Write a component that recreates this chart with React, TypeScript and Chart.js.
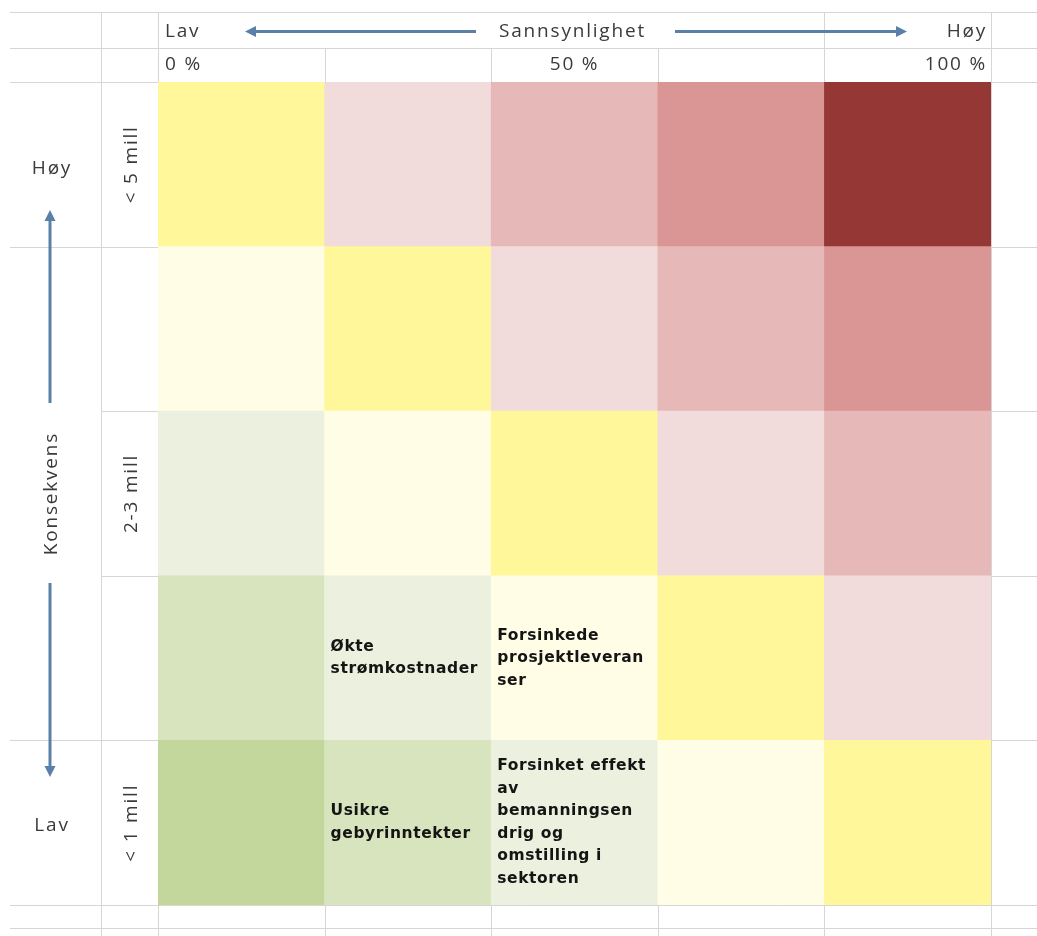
import React, { useEffect, useRef } from "react";
import { Chart, registerables } from "chart.js";

Chart.register(...registerables);

// ---- Data ----
// Probability columns (left → right) and consequence rows (bottom → top)
const probabilityLabels = ["0 %", "", "50 %", "", "100 %"];
const consequenceLabels = ["< 1 mill", "", "2-3 mill", "", "< 5 mill"];

// Risk level of each cell (0 = lowest/green ... 8 = highest/dark red), per consequence row
const riskRow1 = [0, 1, 2, 3, 4]; // < 1 mill
const riskRow2 = [1, 2, 3, 4, 5];
const riskRow3 = [2, 3, 4, 5, 6]; // 2-3 mill
const riskRow4 = [3, 4, 5, 6, 7];
const riskRow5 = [4, 5, 6, 7, 8]; // < 5 mill
const riskRows = [riskRow1, riskRow2, riskRow3, riskRow4, riskRow5];

// Each cell is one unit high in the stacked matrix
const cellUnits = [1, 1, 1, 1, 1];

const levelColors = [
  "#c3d69b",
  "#d7e4bd",
  "#ebf1de",
  "#fffde6",
  "#fff799",
  "#f2dcdb",
  "#e6b9b8",
  "#d99694",
  "#953735",
];

// Risks placed in the matrix: probability column index, consequence row index
const riskProb = [1, 2, 1, 2];
const riskCons = [1, 1, 0, 0];
const riskText = [
  ["Økte", "strømkostnader"],
  ["Forsinkede", "prosjektleveran", "ser"],
  ["Usikre", "gebyrinntekter"],
  ["Forsinket effekt", "av", "bemanningsen", "drig og", "omstilling i", "sektoren"],
];

const xTitle = "Sannsynlighet";
const yTitle = "Konsekvens";
const lowText = "Lav";
const highText = "Høy";

// ---- Drawing helpers ----
const GRID = "#d6d6d6";
const TEXT = "#3a3a3a";
const ARROW = "#5b80a8";
const HEAD_FONT = '19px "Open Sans"';
const CELL_FONT = 'bold 15.5px "DejaVu Sans"';

function drawArrow(ctx: CanvasRenderingContext2D, x1: number, y1: number, x2: number, y2: number) {
  const ang = Math.atan2(y2 - y1, x2 - x1);
  const head = 11;
  const half = 5.5;
  ctx.save();
  ctx.strokeStyle = ARROW;
  ctx.fillStyle = ARROW;
  ctx.lineWidth = 3;
  ctx.beginPath();
  ctx.moveTo(x1, y1);
  ctx.lineTo(x2 - Math.cos(ang) * head * 0.8, y2 - Math.sin(ang) * head * 0.8);
  ctx.stroke();
  ctx.beginPath();
  ctx.moveTo(x2, y2);
  ctx.lineTo(
    x2 - Math.cos(ang) * head - Math.sin(ang) * half,
    y2 - Math.sin(ang) * head + Math.cos(ang) * half
  );
  ctx.lineTo(
    x2 - Math.cos(ang) * head + Math.sin(ang) * half,
    y2 - Math.sin(ang) * head - Math.cos(ang) * half
  );
  ctx.closePath();
  ctx.fill();
  ctx.restore();
}

function hLine(ctx: CanvasRenderingContext2D, x1: number, x2: number, y: number) {
  const yy = Math.round(y) + 0.5;
  ctx.beginPath();
  ctx.moveTo(x1, yy);
  ctx.lineTo(x2, yy);
  ctx.stroke();
}
function vLine(ctx: CanvasRenderingContext2D, x: number, y1: number, y2: number) {
  const xx = Math.round(x) + 0.5;
  ctx.beginPath();
  ctx.moveTo(xx, y1);
  ctx.lineTo(xx, y2);
  ctx.stroke();
}

const sheetPlugin = {
  id: "sheet",
  beforeDatasetsDraw(chart: any) {
    const ctx: CanvasRenderingContext2D = chart.ctx;
    const { left, right, top, bottom } = chart.chartArea;
    const xs = chart.scales.x;
    const ys = chart.scales.y;
    const W = chart.width;
    const H = chart.height;
    const colA = 10;
    const colB = 101;
    const head1 = top - 70;
    const head2 = top - 34;
    const half = (xs.getPixelForValue(1) - xs.getPixelForValue(0)) / 2;
    ctx.save();
    ctx.fillStyle = "#ffffff";
    ctx.fillRect(0, 0, W, H);
    ctx.strokeStyle = GRID;
    ctx.lineWidth = 1;
    // full horizontal lines
    [head1, head2, top, bottom, bottom + 23].forEach((y) => hLine(ctx, colA, W, y));
    // row boundaries
    for (let k = 1; k < consequenceLabels.length; k++) {
      const y = ys.getPixelForValue(k);
      hLine(ctx, colB, W, y);
      if (k === 1 || k === consequenceLabels.length - 1) hLine(ctx, colA, colB, y);
    }
    // vertical lines
    vLine(ctx, colB, head1, H);
    vLine(ctx, left, head1, H);
    vLine(ctx, right, head1, H);
    for (let i = 1; i < probabilityLabels.length; i++) {
      const x = xs.getPixelForValue(i) - half;
      vLine(ctx, x, i === probabilityLabels.length - 1 ? head1 : head2, top);
      vLine(ctx, x, bottom, H);
    }
    ctx.restore();
  },
  afterDatasetsDraw(chart: any) {
    const ctx: any = chart.ctx;
    const { left, right, top } = chart.chartArea;
    const xs = chart.scales.x;
    const ys = chart.scales.y;
    const half = (xs.getPixelForValue(1) - xs.getPixelForValue(0)) / 2;
    const row1Y = top - 50;
    const row2Y = top - 17;
    ctx.save();
    ctx.fillStyle = TEXT;
    ctx.font = HEAD_FONT;
    ctx.letterSpacing = "1.8px";
    ctx.textBaseline = "middle";
    // header row 1
    ctx.textAlign = "left";
    ctx.fillText(lowText, left + 7, row1Y);
    ctx.textAlign = "center";
    ctx.fillText(xTitle, xs.getPixelForValue(2) - 2, row1Y);
    ctx.textAlign = "right";
    ctx.fillText(highText, right - 4, row1Y);
    // header row 2 — probability ticks
    probabilityLabels.forEach((lab, i) => {
      if (!lab) return;
      const c = xs.getPixelForValue(i);
      if (i === 0) {
        ctx.textAlign = "left";
        ctx.fillText(lab, c - half + 7, row2Y);
      } else if (i === probabilityLabels.length - 1) {
        ctx.textAlign = "right";
        ctx.fillText(lab, c + half - 4, row2Y);
      } else {
        ctx.textAlign = "center";
        ctx.fillText(lab, c, row2Y);
      }
    });
    // horizontal arrows
    drawArrow(ctx, 476, row1Y - 0.5, 245, row1Y - 0.5);
    drawArrow(ctx, 675, row1Y - 0.5, 907, row1Y - 0.5);

    // left column
    const colACenter = 52;
    ctx.textAlign = "center";
    ctx.fillText(highText, colACenter, ys.getPixelForValue(4.5) + 4);
    ctx.fillText(lowText, colACenter, ys.getPixelForValue(0.5) + 3);
    ctx.save();
    ctx.translate(colACenter, ys.getPixelForValue(2.5));
    ctx.rotate(-Math.PI / 2);
    ctx.fillText(yTitle, 0, 0);
    ctx.restore();
    drawArrow(ctx, 50, 403, 50, 210);
    drawArrow(ctx, 50, 583, 50, 777);

    // consequence tick labels (rotated)
    consequenceLabels.forEach((lab, k) => {
      if (!lab) return;
      ctx.save();
      ctx.translate(132, ys.getPixelForValue(k + 0.5));
      ctx.rotate(-Math.PI / 2);
      ctx.textAlign = "center";
      ctx.fillText(lab, 0, 0);
      ctx.restore();
    });

    // risk texts in cells
    ctx.letterSpacing = "0.6px";
    ctx.font = CELL_FONT;
    ctx.fillStyle = "#141414";
    ctx.textAlign = "left";
    const lh = 22.5;
    riskText.forEach((lines, r) => {
      const cx = xs.getPixelForValue(riskProb[r]) - half + 6;
      const cy = ys.getPixelForValue(riskCons[r] + 0.5);
      const y0 = cy - ((lines.length - 1) * lh) / 2;
      lines.forEach((ln, j) => ctx.fillText(ln, cx, y0 + j * lh));
    });
    ctx.restore();
  },
};

export default function App() {
  const canvasRef = useRef<HTMLCanvasElement | null>(null);
  useEffect(() => {
    if (!canvasRef.current) return;
    const datasets = riskRows.map((levels, k) => ({
      label: consequenceLabels[k] || `Rad ${k + 1}`,
      data: cellUnits,
      backgroundColor: levels.map((l) => levelColors[l]),
      borderWidth: 0,
      barPercentage: 1,
      categoryPercentage: 1,
    }));
    const chart = new Chart(canvasRef.current, {
      type: "bar",
      data: { labels: probabilityLabels.map((l, i) => l || `k${i}`), datasets },
      options: {
        animation: false,
        responsive: false,
        layout: { padding: { left: 158, top: 82, right: 46, bottom: 31 } },
        scales: {
          x: { stacked: true, display: false, offset: true },
          y: { stacked: true, display: false, min: 0, max: 5 },
        },
        plugins: { legend: { display: false }, tooltip: { enabled: false } },
      },
      plugins: [sheetPlugin],
    });
    return () => chart.destroy();
  }, []);
  return (
    <div style={{ position: "fixed", left: 0, top: 0, width: 1037, height: 936, background: "#fff" }}>
      <canvas ref={canvasRef} width={1037} height={936} style={{ width: 1037, height: 936 }} />
    </div>
  );
}
